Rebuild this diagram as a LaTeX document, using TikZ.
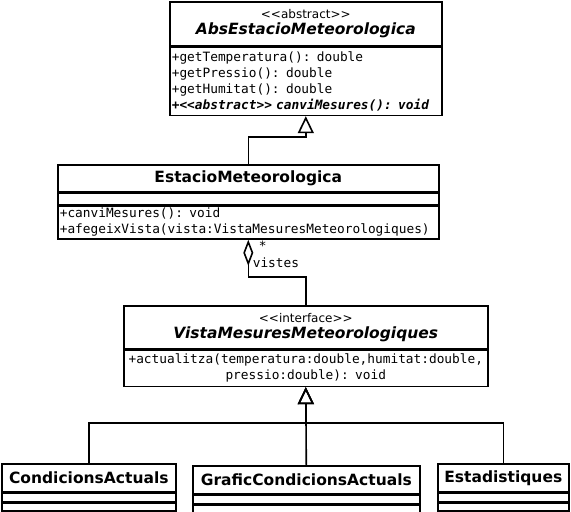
\documentclass[tikz,border=0pt]{standalone}
\usepackage{fontspec}
\setmainfont{DejaVu Sans}
\setmonofont{DejaVu Sans Mono}
\usetikzlibrary{arrows.meta}

\newcommand{\clsname}{\bfseries\fontsize{15.5}{18}\selectfont}
\newcommand{\stereo}{\fontsize{12}{15}\selectfont}
\newcommand{\mth}{\ttfamily\fontsize{12.8}{16}\selectfont}

\begin{document}
\begin{tikzpicture}[x=1pt, y=-1pt]
      \tikzstyle{every node}=[rectangle, draw, line width=1.6pt, inner sep=0pt, anchor=north west]
      \tikzstyle{ops}=[inner xsep=2pt, font=\mth]
      \tikzstyle{role}=[draw=none, font=\mth]
      \tikzstyle{gen}=[line width=1.6pt, -{Triangle[open, width=16pt, length=17pt]}]
      \tikzstyle{agg}=[line width=1.6pt, {Diamond[open, width=10pt, length=26pt]}-]

      \useasboundingbox (0,0) rectangle (571,512);

      \path (169,1) node[minimum width=272pt, minimum height=44pt, align=center] (abs-n)
        {{\stereo <\kern0pt<abstract>\kern0pt>}\\[4pt]{\clsname\itshape AbsEstacioMeteorologica}};
      \path (abs-n.south west) node[ops, minimum width=272pt, minimum height=68pt, text width=268pt, align=left] (abs-m)
        {+getTemperatura(): double\\+getPressio(): double\\+getHumitat(): double\\
         {\bfseries\itshape +<\kern0pt<abstract>\kern0pt> canviMesures(): void}};

      \path (57,164) node[minimum width=381pt, minimum height=27pt, font=\clsname] (est-n) {EstacioMeteorologica};
      \path (est-n.south west) node[minimum width=381pt, minimum height=11pt] (est-a) {};
      \path (est-a.south west) node[ops, minimum width=381pt, minimum height=33pt, text width=377pt, align=left] (est-m)
        {+canviMesures(): void\\+afegeixVista(vista:VistaMesuresMeteorologiques)};

      \path (123,305) node[minimum width=364pt, minimum height=43pt, align=center] (vista-n)
        {{\stereo <\kern0pt<interface>\kern0pt>}\\[4pt]{\clsname\itshape VistaMesuresMeteorologiques}};
      \path (vista-n.south west) node[ops, minimum width=364pt, minimum height=36pt, text width=360pt, align=center] (vista-m)
        {+actualitza(temperatura:double,humitat:double,\\pressio:double): void};

      \foreach \n/\x/\y/\bw/\t in {cond/1/463/174/CondicionsActuals,
                                  graf/192/465/227/GraficCondicionsActuals,
                                  stats/437/463/131/Estadistiques}
      {
        \path (\x,\y) node[minimum width=\bw pt, minimum height=28pt, font=\clsname] (\n-n) {\t};
        \path (\n-n.south west) node[minimum width=\bw pt, minimum height=8pt] (\n-a) {};
        \path (\n-a.south west) node[minimum width=\bw pt, minimum height=8pt] (\n-m) {};
      }

      \draw[gen] (est-n.north) -- ++(0,-27) -| (abs-m.south);

      \draw[agg] (est-m.south) -- ++(0,37) -| (vista-n.north);
      \path (258,240) node[role] (mult) {*};
      \path (252,257) node[role] (rolename) {vistes};

      \draw[gen] (graf-n.north) -- (vista-m.south);
      \foreach \n in {cond, stats}
      {
        \draw[gen] (\n-n.north) -- ++(0,-40) -| (vista-m.south);
      }
\end{tikzpicture}
\end{document}
